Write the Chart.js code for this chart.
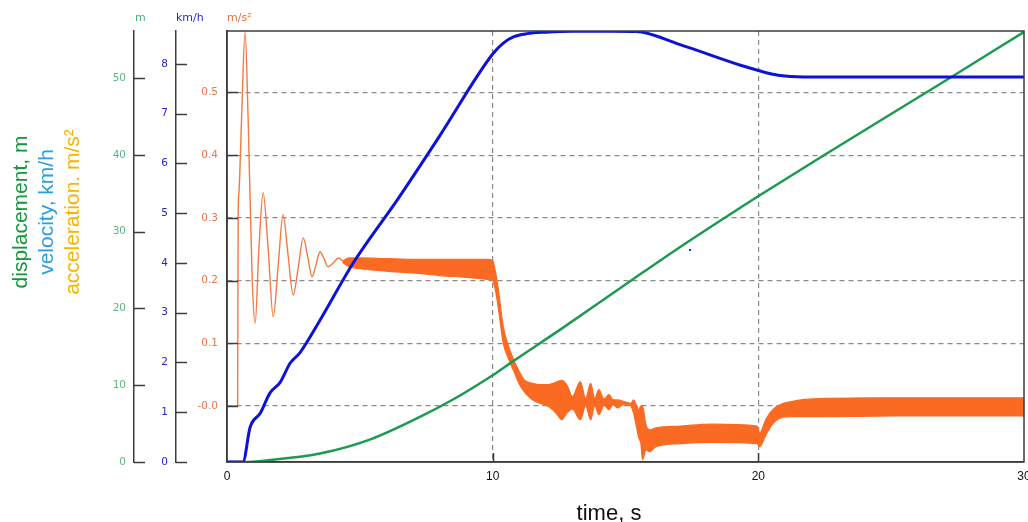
<!DOCTYPE html>
<html>
<head>
<meta charset="utf-8">
<script src="https://cdn.jsdelivr.net/npm/chart.js@4.4.1/dist/chart.umd.min.js"></script>
<style>
  html, body { margin: 0; padding: 0; background: #fff; }
  #wrap { width: 1028px; height: 522px; }
</style>
</head>
<body>
<div id="wrap"><canvas id="chart" width="1028" height="522"></canvas></div>
<script>
// --- ticks
const timeTicks = [0, 10, 20, 30];
const dispTicks = [0, 10, 20, 30, 40, 50];
const velTicks = [0, 1, 2, 3, 4, 5, 6, 7, 8];
const accTicks = [0, 0.1, 0.2, 0.3, 0.4, 0.5];
const accTickLabels = ['-0.0', '0.1', '0.2', '0.3', '0.4', '0.5'];

// --- displacement, m
const dispT = [0, 0.6, 1.62, 3.5, 5.4, 7.28, 8.54, 10.0, 10.8, 12.57, 15.2, 17.1, 19.36, 20.04, 22.5, 27.3, 30];
const dispV = [0, 0, 0.26, 1.1, 2.95, 5.9, 8.2, 11.3, 13.2, 17.3, 23.6, 28.1, 33.2, 34.7, 40.0, 50.2, 56.0];

// --- velocity, km/h
const velT = [0, 0.6, 0.87, 1.25, 1.62, 2.0, 2.38, 2.75, 3.5, 4.75, 6.45, 8.0, 10.0, 10.4, 10.8, 11.3, 12.0, 13.0, 14.5, 15.4, 17.0, 19.36, 20.0, 20.5, 21.0, 22.0, 25.0, 30.0];
const velV = [0, 0, 0.7, 0.98, 1.39, 1.6, 1.99, 2.2, 2.85, 4.0, 5.3, 6.55, 8.2, 8.42, 8.55, 8.61, 8.64, 8.66, 8.66, 8.655, 8.4, 7.97, 7.87, 7.8, 7.76, 7.74, 7.74, 7.74];
const strayT = [17.43];
const strayV = [4.26];

// --- acceleration, m/s2: start-up ringing (single trace)
const ringT = [0, 0.40, 0.42, 0.45, 0.55, 0.68, 0.80, 0.95, 1.06, 1.20, 1.36, 1.55, 1.74, 1.92, 2.11, 2.30, 2.49, 2.68, 2.87, 3.05, 3.20, 3.35, 3.50, 3.65, 3.80, 4.00, 4.20, 4.35];
const ringV = [0, 0, 0.30, 0.34, 0.46, 0.597, 0.45, 0.2, 0.132, 0.25, 0.34, 0.25, 0.142, 0.22, 0.305, 0.24, 0.177, 0.22, 0.268, 0.235, 0.206, 0.225, 0.246, 0.235, 0.222, 0.228, 0.236, 0.231];

// --- acceleration, m/s2: envelope of the fast oscillation band
const bandT = [4.35, 4.6, 5.0, 6.0, 7.0, 8.0, 9.0, 9.8, 10.0, 10.1, 10.2, 10.4, 10.6, 10.8, 11.0, 11.2, 11.5, 11.8, 12.1, 12.4, 12.6, 12.8, 13.0, 13.3, 13.5, 13.69, 13.84, 14.0, 14.19, 14.38, 14.53, 14.7, 14.95, 15.2, 15.3, 15.4, 15.5, 15.58, 15.64, 15.77, 15.9, 16.15, 17.06, 18.3, 19.95, 20.05, 20.3, 20.62, 21.25, 22.5, 25.0, 30.0];
const bandHi = [0.231, 0.236, 0.236, 0.235, 0.234, 0.234, 0.234, 0.234, 0.232, 0.215, 0.19, 0.126, 0.095, 0.073, 0.055, 0.041, 0.036, 0.034, 0.034, 0.038, 0.041, 0.033, 0.015, 0.039, 0.012, 0.036, 0.012, 0.026, 0.011, 0.018, 0.010, 0.0096, 0.007, 0.004, 0.0096, 0.002, -0.006, 0.0, 0.0, -0.03, -0.038, -0.035, -0.032, -0.029, -0.032, -0.043, -0.02, -0.003, 0.007, 0.012, 0.013, 0.013];
const bandLo = [0.229, 0.222, 0.219, 0.215, 0.212, 0.208, 0.205, 0.202, 0.200, 0.185, 0.16, 0.10, 0.075, 0.055, 0.035, 0.022, 0.01, 0.004, -0.001, -0.012, -0.022, -0.011, -0.005, -0.022, 0.0, -0.022, 0.0, -0.014, 0.001, -0.006, 0.002, -0.003, 0.003, 0.0, -0.011, -0.03, -0.051, -0.06, -0.086, -0.07, -0.073, -0.065, -0.060, -0.058, -0.060, -0.065, -0.045, -0.025, -0.017, -0.017, -0.016, -0.016];

const pts = (xs, ys) => xs.map((x, i) => ({ x: x, y: ys[i] }));

const FONT = '"Liberation Sans", Arial, sans-serif';
const TICKFONT = '"DejaVu Sans", Verdana, sans-serif';
const GRID = '#8a8a8a';

const decor = {
  id: 'decor',
  afterDraw(chart) {
    const { ctx, chartArea: a, scales } = chart;
    ctx.save();
    // chart frame
    ctx.strokeStyle = '#3c3c3c';
    ctx.lineWidth = 1.5;
    ctx.strokeRect(a.left, a.top, a.right - a.left, a.bottom - a.top);
    // inward tick marks on the three value axes
    ['yDisp', 'yVel', 'yAcc'].forEach(id => {
      const s = scales[id];
      s.ticks.forEach(t => {
        const y = Math.round(s.getPixelForValue(t.value)) + 0.5;
        ctx.beginPath();
        ctx.moveTo(s.right, y);
        ctx.lineTo(s.right + 11, y);
        ctx.stroke();
      });
    });
    const sx = scales.x;
    [10, 20].forEach(v => {
      const x = Math.round(sx.getPixelForValue(v)) + 0.5;
      ctx.beginPath();
      ctx.moveTo(x, a.bottom);
      ctx.lineTo(x, a.bottom - 9);
      ctx.stroke();
    });
    // unit labels above the axes
    ctx.font = '11px ' + TICKFONT;
    ctx.textBaseline = 'middle';
    ctx.textAlign = 'left';
    ctx.fillStyle = '#4cae76';
    ctx.fillText('m', scales.yDisp.right + 1, 18);
    ctx.fillStyle = '#2424d0';
    ctx.fillText('km/h', scales.yVel.right, 18);
    ctx.fillStyle = '#ea6d3a';
    ctx.fillText('m/s²', scales.yAcc.right, 18);
    // stacked rotated axis titles
    const titles = [
      ['displacement, m', '#13963c', 21],
      ['velocity, km/h', '#2a9ee0', 47],
      ['acceleration. m/s²', '#f4b400', 73]
    ];
    ctx.font = '21px ' + FONT;
    ctx.textAlign = 'center';
    titles.forEach(([txt, col, x]) => {
      ctx.save();
      ctx.translate(x, 212);
      ctx.rotate(-Math.PI / 2);
      ctx.fillStyle = col;
      ctx.fillText(txt, 0, 0);
      ctx.restore();
    });
    // x axis title
    ctx.font = '22px ' + FONT;
    ctx.fillStyle = '#111';
    ctx.textBaseline = 'alphabetic';
    ctx.fillText('time, s', 609, 520);
    ctx.restore();
  }
};

const valueAxis = (opts) => Object.assign({
  type: 'linear',
  position: 'left',
  grid: { drawOnChartArea: false, drawTicks: false },
  border: { display: true, color: '#3c3c3c', width: 1.5 }
}, opts);

new Chart(document.getElementById('chart'), {
  type: 'line',
  data: {
    datasets: [
      {
        label: 'velocity',
        data: pts(velT, velV),
        yAxisID: 'yVel',
        borderColor: '#0c12d6',
        borderWidth: 3,
        pointRadius: 0,
        cubicInterpolationMode: 'monotone',
        order: 0
      },
      {
        label: 'stray',
        data: pts(strayT, strayV),
        yAxisID: 'yVel',
        showLine: false,
        pointRadius: 1.2,
        pointBackgroundColor: '#2a3ad8',
        pointBorderWidth: 0,
        order: 0
      },
      {
        label: 'displacement',
        data: pts(dispT, dispV),
        yAxisID: 'yDisp',
        borderColor: '#1c9a52',
        borderWidth: 2.5,
        pointRadius: 0,
        cubicInterpolationMode: 'monotone',
        order: 1
      },
      {
        label: 'acceleration',
        data: pts(ringT, ringV),
        yAxisID: 'yAcc',
        borderColor: '#f27a44',
        borderWidth: 1.4,
        pointRadius: 0,
        cubicInterpolationMode: 'monotone',
        order: 2
      },
      {
        label: 'accHi',
        data: pts(bandT, bandHi),
        yAxisID: 'yAcc',
        borderColor: '#fb6a22',
        borderWidth: 1.2,
        pointRadius: 0,
        cubicInterpolationMode: 'monotone',
        fill: { target: '+1', above: '#fb6a22', below: '#fb6a22' },
        order: 3
      },
      {
        label: 'accLo',
        data: pts(bandT, bandLo),
        yAxisID: 'yAcc',
        borderColor: '#fb6a22',
        borderWidth: 1.2,
        pointRadius: 0,
        cubicInterpolationMode: 'monotone',
        order: 4
      }
    ]
  },
  options: {
    responsive: false,
    animation: false,
    layout: { padding: { left: 0, right: 4, top: 31, bottom: 0 } },
    plugins: { legend: { display: false }, tooltip: { enabled: false } },
    scales: {
      x: {
        type: 'linear',
        min: 0,
        max: 30,
        afterBuildTicks: s => { s.ticks = timeTicks.map(v => ({ value: v })); },
        afterFit: s => { s.height = 60; s.paddingLeft = 0; s.paddingRight = 0; },
        grid: {
          drawTicks: false,
          lineWidth: 1.2,
          color: c => (c.tick && (c.tick.value === 10 || c.tick.value === 20)) ? GRID : 'rgba(0,0,0,0)'
        },
        border: { display: true, color: '#3c3c3c', width: 1.5, dash: [5, 4] },
        ticks: { color: '#111', padding: 7, autoSkip: false, maxRotation: 0, font: { family: FONT, size: 12 } }
      },
      yDisp: valueAxis({
        weight: 3,
        min: 0,
        max: 56.12,
        afterBuildTicks: s => { s.ticks = dispTicks.map(v => ({ value: v })); },
        afterFit: s => { s.width = 134; },
        ticks: { color: '#5cb682', padding: 8, autoSkip: false, font: { family: TICKFONT, size: 10.5 } }
      }),
      yVel: valueAxis({
        weight: 2,
        min: 0,
        max: 8.663,
        afterBuildTicks: s => { s.ticks = velTicks.map(v => ({ value: v })); },
        afterFit: s => { s.width = 42; },
        ticks: { color: '#2525cc', padding: 8, autoSkip: false, font: { family: TICKFONT, size: 10.5 } }
      }),
      yAcc: valueAxis({
        weight: 1,
        min: -0.0894,
        max: 0.598,
        afterBuildTicks: s => { s.ticks = accTicks.map(v => ({ value: v })); },
        afterFit: s => { s.width = 51; },
        grid: { drawOnChartArea: true, drawTicks: false, color: GRID, lineWidth: 1.2 },
        border: { display: true, color: '#3c3c3c', width: 1.5, dash: [5, 4] },
        ticks: {
          color: '#e8774a', padding: 9, autoSkip: false,
          font: { family: TICKFONT, size: 10.5 },
          callback: (v, i) => accTickLabels[i]
        }
      })
    }
  },
  plugins: [decor]
});
</script>
</body>
</html>
